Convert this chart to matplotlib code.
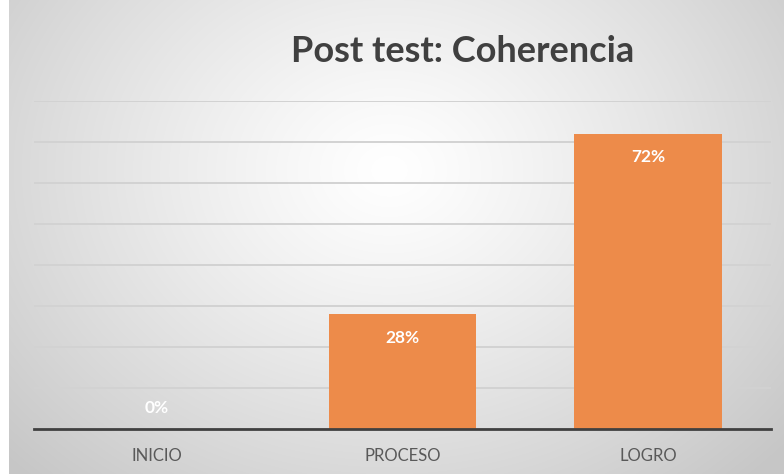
import numpy as np
import matplotlib.pyplot as plt

categories = ['INICIO', 'PROCESO', 'LOGRO']
values = [0.0, 0.28, 0.72]
labels = ['0%', '28%', '72%']
title = 'Post test: Coherencia'

plt.rcParams['font.family'] = ['Lato', 'DejaVu Sans']

fig = plt.figure(figsize=(7.84, 4.74), dpi=100)
fig.patch.set_facecolor('white')

# radial gradient background
bg = fig.add_axes([9 / 784, 0, 1 - 9 / 784, 1])
yy, xx = np.mgrid[0:474, 0:775]
cx, cy = 380, 170
d = np.sqrt(((xx - cx) / 520) ** 2 + ((yy - cy) / 420) ** 2)
d = np.clip(d, 0, 1)
shade = 1.0 - 0.22 * d ** 1.2
img = np.dstack([shade, shade, shade])
bg.imshow(img, aspect='auto', extent=[0, 1, 0, 1], origin='upper')
bg.axis('off')

ax = fig.add_axes([34 / 784, 45 / 474, (771 - 34) / 784, (429 - 101) / 474])
ax.patch.set_alpha(0)
x = np.arange(len(categories))
bars = ax.bar(x, values, width=0.6, color='#ED8B4A', zorder=3)
ax.set_xlim(-0.5, 2.5)
ax.set_ylim(0, 0.8)
ax.set_yticks(np.arange(0, 0.81, 0.1))
ax.yaxis.grid(True, color='#d2d2d2', linewidth=1.4, zorder=0)
ax.tick_params(axis='y', left=False, labelleft=False)
ax.tick_params(axis='x', bottom=False, pad=10, labelsize=12, colors='#595959')
ax.set_xticks(x)
ax.set_xticklabels(categories)
for s in ['top', 'right', 'left']:
    ax.spines[s].set_visible(False)
ax.spines['bottom'].set_color('#404040')
ax.spines['bottom'].set_linewidth(2)
ax.spines['bottom'].set_zorder(4)

for xi, v, lab in zip(x, values, labels):
    if v > 0:
        ax.annotate(lab, (xi, v), xytext=(0, -17), textcoords='offset points',
                    ha='center', va='center', color='white', fontsize=12.5,
                    fontweight='bold', zorder=5)
    else:
        ax.annotate(lab, (xi, v), xytext=(0, 15), textcoords='offset points',
                    ha='center', va='center', color='white', fontsize=12.5,
                    fontweight='bold', zorder=5)

fig.text(463 / 784, 1 - 51 / 474, title, ha='center', va='center',
         fontsize=26, fontweight='bold', color='#404040')

fig.savefig('out.png', dpi=100)
